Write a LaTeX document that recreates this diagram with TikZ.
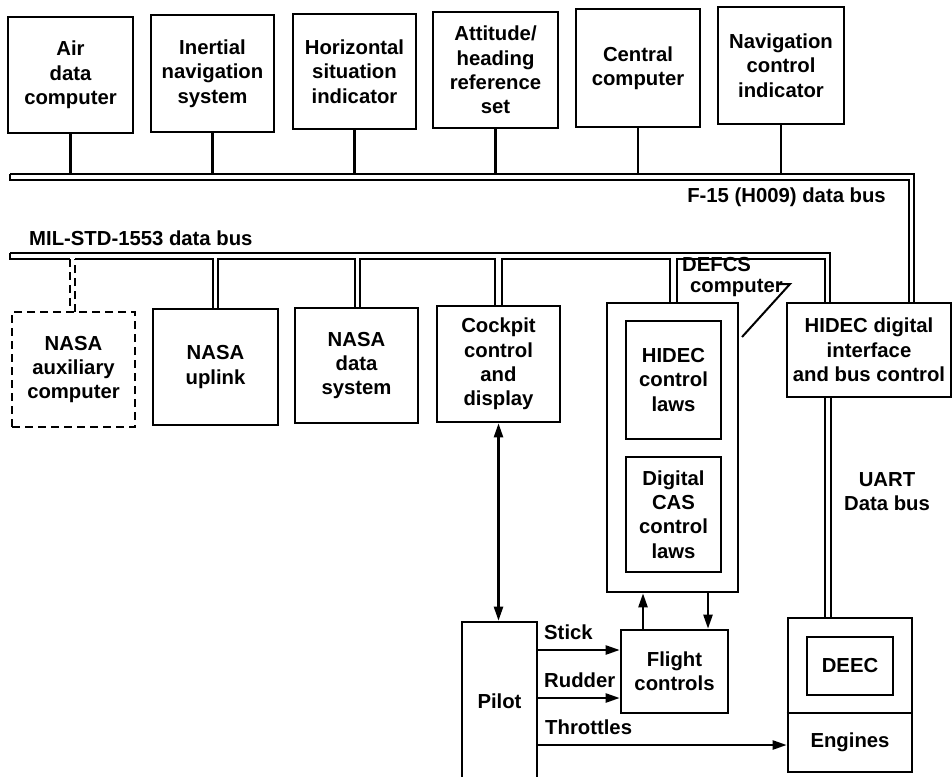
\documentclass[tikz,border=0pt]{standalone}
\usepackage{fontspec}
\setmainfont{Liberation Sans}
\usetikzlibrary{arrows.meta}
\newcommand\mybox[7][]{\node[box,minimum width={#5-#3},minimum height={#6-#4},#1] (#2) at ({(#3+#5)/2},{(#4+#6)/2}) {#7};}
\begin{document}
\begin{tikzpicture}[x=1pt,y=-1pt,
  box/.style={draw, line width=2.6pt, align=center, inner sep=0pt,
    font=\bfseries\fontsize{20.3}{24.3}\selectfont},
  lbl/.style={inner sep=0pt, font=\bfseries\fontsize{20.3}{24.3}\selectfont},
  bus/.style={line width=2.1pt},
  arr/.style={line width=2.3pt, -{Triangle[length=14pt,width=9pt]}},
  darr/.style={line width=2.3pt, {Triangle[length=14pt,width=9pt]}-{Triangle[length=14pt,width=9pt]}},
  dsh/.style={dash pattern=on 8pt off 5pt}]
\useasboundingbox (0,0) rectangle (952,776);
% top row
\mybox{air}{8}{17}{133}{133}{Air\\data\\computer}
\mybox{ins}{151}{15}{274}{132}{Inertial\\navigation\\system}
\mybox{hsi}{293}{14}{416}{129}{Horizontal\\situation\\indicator}
\mybox{ahr}{433}{12}{558}{128}{Attitude/\\heading\\reference\\set}
\mybox{cc}{576}{9}{700}{127}{Central\\computer}
\mybox{nci}{718}{7}{844}{124}{Navigation\\control\\indicator}
% bottom row
\mybox[dsh]{aux}{12}{312}{135}{427}{NASA\\auxiliary\\computer}
\mybox{upl}{153}{309}{278}{425}{NASA\\uplink}
\mybox{nds}{295}{308}{418}{423}{NASA\\data\\system}
\mybox{cpd}{437}{306}{560}{422}{Cockpit\\control\\and\\display}
\mybox{defcs}{607}{303}{738}{592}{}
\mybox{hcl}{626}{321}{721}{439}{HIDEC\\control\\laws}
\mybox{cas}{626}{457}{721}{572}{Digital\\CAS\\control\\laws}
\mybox{hdi}{787}{303}{951}{397}{HIDEC digital\\interface\\and bus control}
\mybox{eng}{788}{618}{912}{772}{}
\mybox{deec}{807}{637}{893}{695}{DEEC}
\mybox{pilot}{462}{622}{537}{780}{Pilot}
\mybox{fc}{621}{630}{728}{713}{Flight\\controls}
\node[lbl] (engl) at (850,742) {Engines};
\coordinate (dv) at (0,713);
\draw[line width=2.6pt] (eng.west |- dv) -- (eng.east |- dv);
% labels
\node[lbl, anchor=east] (f15) at (886,197) {F-15 (H009) data bus};
\node[lbl, anchor=west] (mil) at (29,238) {MIL-STD-1553 data bus};
\node[lbl, anchor=west] (dfa) at (682,265) {DEFCS};
\node[lbl, anchor=west] (dfb) at (690,288) {computer};
\node[lbl] (uart) at (887,480) {UART};
\node[lbl] (uartb) at (887,503) {Data bus};
\node[lbl, anchor=west] (stk) at (544,632) {Stick};
\node[lbl, anchor=west] (rud) at (544,680) {Rudder};
\node[lbl, anchor=west] (thr) at (545,727) {Throttles};
\coordinate (ldA) at (779,284);
\coordinate (ldB) at (790,284);
\coordinate (ldC) at (742,337);
\draw[line width=2pt] (ldA) -- (ldB) -- (ldC);
% top bus
\coordinate (tb) at (0,174);
\draw[bus] (10,174) -- (914,174) -- (914,303);
\draw[bus] (10,174) -- (10,180) -- (909,180) -- (909,303);
\foreach \n in {air,ins,hsi,ahr,cc,nci}{\draw[bus] (\n.south) -- (\n.south |- tb);}
% lower bus
\draw[bus] (10,253) -- (830,253) -- (830,303);
\draw[bus] (10,253) -- (10,259) -- (70,259);
\draw[bus,dsh] (70,259) -- (70,312);
\draw[bus,dsh] (75,312) -- (75,259);
\draw[bus] (75,259) -- (213,259) -- (213,309);
\draw[bus] (218,309) -- (218,259) -- (355,259) -- (355,308);
\draw[bus] (360,308) -- (360,259) -- (495,259) -- (495,306);
\draw[bus] (502,306) -- (502,259) -- (670,259) -- (670,303);
\draw[bus] (677,303) -- (677,259) -- (825,259) -- (825,303);
% UART
\draw[bus] (825,397) -- (825,618);
\draw[bus] (831,397) -- (831,618);
% arrows
\draw[darr] (cpd.south) -- (cpd.south |- pilot.north);
\coordinate (u1) at (643,0);
\coordinate (u2) at (708,0);
\draw[arr] (fc.north -| u1) -- (defcs.south -| u1);
\draw[arr] (defcs.south -| u2) -- (fc.north -| u2);
\coordinate (s1) at (0,650);
\coordinate (r1) at (0,698);
\coordinate (t1) at (0,745);
\draw[arr] (pilot.east |- s1) -- (fc.west |- s1);
\draw[arr] (pilot.east |- r1) -- (fc.west |- r1);
\draw[arr] (pilot.east |- t1) -- (eng.west |- t1);
\end{tikzpicture}
\end{document}
